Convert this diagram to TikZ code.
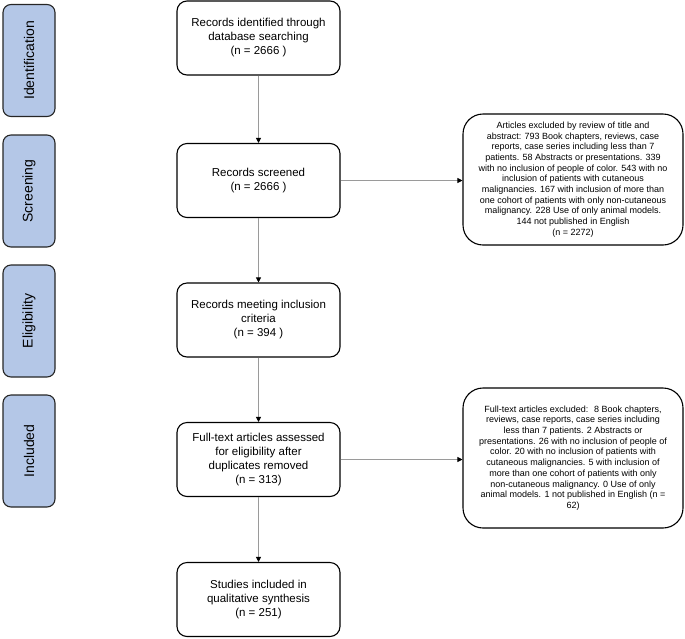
\documentclass[tikz,border=0pt]{standalone}
\usepackage{fontspec}
\setmainfont{Liberation Sans}
\usetikzlibrary{arrows.meta}
\definecolor{phase}{HTML}{B4C7E7}
\definecolor{conn}{HTML}{9A9A9A}
\begin{document}
\begin{tikzpicture}[x=1pt,y=-1pt,
  phasebox/.style={draw=black!85, line width=1.1pt, fill=phase, rounded corners=8pt,
    minimum width=52pt, minimum height=112pt, inner sep=0pt},
  phasetext/.style={rotate=90, font=\fontsize{14}{16}\selectfont},
  mainbox/.style={draw=black, line width=1.1pt, fill=white, rounded corners=10pt,
    minimum width=163pt, minimum height=74pt, align=center, inner sep=2pt,
    font=\fontsize{11.5}{14}\selectfont},
  exclbox/.style={draw=black, line width=1.1pt, fill=white, rounded corners=20pt,
    minimum width=220pt, align=center, inner sep=2pt,
    font=\fontsize{9}{10.7}\selectfont},
  conn/.style={draw=conn, line width=0.9pt, -{Triangle[length=5pt,width=5pt,color=black]}}
]
\useasboundingbox (0,0) rectangle (685,638);

% phase labels
\node[phasebox] (pid) at (29,60.5) {};
\node[phasetext] at (pid.center) {Identification};
\node[phasebox] (psc) at (29,191) {};
\node[phasetext] at (psc.center) {Screening};
\node[phasebox] (pel) at (29,321) {};
\node[phasetext] at (pel.center) {Eligibility};
\node[phasebox] (pin) at (29,451) {};
\node[phasetext] at (pin.center) {Included};

% main flow
\node[mainbox] (b1) at (258.5,38) {Records identified through\\database searching\\(n = 2666 )};
\node[mainbox] (b2) at (258.5,180.5) {Records screened\\(n = 2666 )};
\node[mainbox] (b3) at (258.5,320) {Records meeting inclusion\\criteria\\(n = 394 )};
\node[mainbox] (b4) at (258.5,459.5) {Full-text articles assessed\\for eligibility after\\duplicates removed\\(n = 313)};
\node[mainbox] (b5) at (258.5,599.5) {Studies included in\\qualitative synthesis\\(n = 251)};

% exclusions
\node[exclbox, minimum height=131pt] (e1) at (573,179.5) {Articles excluded by review of title and\\
abstract: 793 Book chapters, reviews, case\\
reports, case series including less than 7\\
patients. 58 Abstracts or presentations. 339\\
with no inclusion of people of color. 543 with no\\
inclusion of patients with cutaneous\\
malignancies. 167 with inclusion of more than\\
one cohort of patients with only non-cutaneous\\
malignancy. 228 Use of only animal models.\\
144 not published in English\\
(n = 2272)};
\node[exclbox, minimum height=140pt] (e2) at (573,458) {Full-text articles excluded:~ 8 Book chapters,\\
reviews, case reports, case series including\\
less than 7 patients. 2 Abstracts or\\
presentations. 26 with no inclusion of people of\\
color. 20 with no inclusion of patients with\\
cutaneous malignancies. 5 with inclusion of\\
more than one cohort of patients with only\\
non-cutaneous malignancy. 0 Use of only\\
animal models. 1 not published in English (n =\\
62)};

% connectors
\draw[conn] (b1) -- (b2);
\draw[conn] (b2) -- (b3);
\draw[conn] (b3) -- (b4);
\draw[conn] (b4) -- (b5);
\draw[conn] (b2.east) -- (b2.east -| e1.west);
\draw[conn] (b4.east) -- (b4.east -| e2.west);
\end{tikzpicture}
\end{document}
